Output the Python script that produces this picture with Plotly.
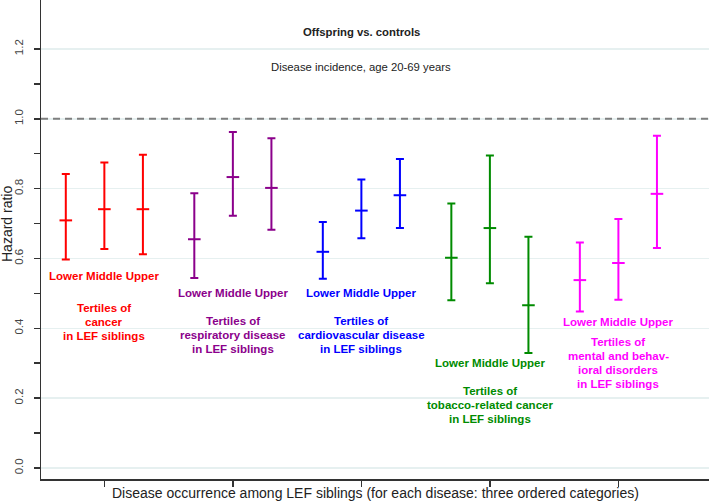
import plotly.graph_objects as go

# ---- data ----
groups = ["cancer", "respiratory disease", "cardiovascular disease",
          "tobacco-related cancer", "mental and behavioral disorders"]
group_pos = [1, 2, 3, 4, 5]
tertile_offsets = [-0.3, 0.0, 0.3]
tertiles = ["Lower", "Middle", "Upper"]
colors = ["#FF0000", "#8B008B", "#0000FF", "#008B00", "#FF00FF"]

hr_cancer = [0.709, 0.741, 0.741]
lo_cancer = [0.597, 0.627, 0.612]
hi_cancer = [0.842, 0.875, 0.897]

hr_resp = [0.655, 0.833, 0.802]
lo_resp = [0.544, 0.722, 0.682]
hi_resp = [0.787, 0.962, 0.944]

hr_cvd = [0.619, 0.737, 0.781]
lo_cvd = [0.542, 0.658, 0.687]
hi_cvd = [0.704, 0.826, 0.885]

hr_tob = [0.602, 0.687, 0.466]
lo_tob = [0.480, 0.529, 0.329]
hi_tob = [0.757, 0.895, 0.662]

hr_mental = [0.538, 0.587, 0.785]
lo_mental = [0.448, 0.482, 0.630]
hi_mental = [0.646, 0.713, 0.951]

hr_all = [hr_cancer, hr_resp, hr_cvd, hr_tob, hr_mental]
lo_all = [lo_cancer, lo_resp, lo_cvd, lo_tob, lo_mental]
hi_all = [hi_cancer, hi_resp, hi_cvd, hi_tob, hi_mental]

y_major_ticks = [0.0, 0.2, 0.4, 0.6, 0.8, 1.0, 1.2]
y_minor_ticks = [0.1, 0.3, 0.5, 0.7, 0.9, 1.1]

# label texts per group (lines)
group_label_lines = [
    ["Tertiles of", "cancer", "in LEF siblings"],
    ["Tertiles of", "respiratory disease", "in LEF siblings"],
    ["Tertiles of", "cardiovascular disease", "in LEF siblings"],
    ["Tertiles of", "tobacco-related cancer", "in LEF siblings"],
    ["Tertiles of", "mental and behav-", "ioral disorders", "in LEF siblings"],
]
# vertical placement of label text (y in hazard-ratio units)
lmu_y = [0.551, 0.500, 0.500, 0.300, 0.419]
label_top_y = [0.459, 0.421, 0.421, 0.221, 0.360]
label_line_step = 0.0401

FONT = "Liberation Sans, Arial, sans-serif"

fig = go.Figure()

for g in range(5):
    xs = [group_pos[g] + o for o in tertile_offsets]
    hr = hr_all[g]
    lo = lo_all[g]
    hi = hi_all[g]
    fig.add_trace(go.Scatter(
        x=xs, y=hr, mode="markers",
        marker=dict(symbol="line-ew", size=9, color=colors[g],
                    line=dict(color=colors[g], width=2)),
        error_y=dict(type="data", symmetric=False,
                     array=[h - m for h, m in zip(hi, hr)],
                     arrayminus=[m - l for m, l in zip(hr, lo)],
                     color=colors[g], thickness=2, width=4),
        showlegend=False, hoverinfo="skip",
    ))
    fig.add_annotation(x=group_pos[g], y=lmu_y[g], xref="x", yref="y",
                       text=" ".join(tertiles), showarrow=False,
                       font=dict(family=FONT, size=11.5, color=colors[g], weight="bold"),
                       xanchor="center", yanchor="middle")
    for i, line in enumerate(group_label_lines[g]):
        fig.add_annotation(x=group_pos[g], y=label_top_y[g] - i * label_line_step,
                           xref="x", yref="y", text=line, showarrow=False,
                           font=dict(family=FONT, size=11.5, color=colors[g], weight="bold"),
                           xanchor="center", yanchor="middle")

# reference line at HR = 1
fig.add_shape(type="line", xref="paper", yref="y", x0=0, x1=1, y0=1.0, y1=1.0,
              line=dict(color="#7f7f7f", width=2, dash="7px,5px"), layer="above")

# titles inside the plot
fig.add_annotation(x=3, y=1.2486, xref="x", yref="y", text="<b>Offspring vs. controls</b>",
                   showarrow=False, font=dict(family=FONT, size=11.3, color="#222222"))
fig.add_annotation(x=3, y=1.148, xref="x", yref="y", text="Disease incidence, age 20-69 years",
                   showarrow=False, font=dict(family=FONT, size=11.3, color="#222222"))

# axis titles
fig.add_annotation(x=(7 - 41) / 668, y=1 - 224 / 479, xref="paper", yref="paper",
                   text="Hazard ratio", textangle=-90, showarrow=False,
                   font=dict(family=FONT, size=14, color="#222222"),
                   xanchor="center", yanchor="middle")
fig.add_annotation(x=0.5, y=-(493 - 479) / 479, xref="paper", yref="paper",
                   text="Disease occurrence among LEF siblings (for each disease: three ordered categories)",
                   showarrow=False, font=dict(family=FONT, size=14, color="#222222"),
                   xanchor="center", yanchor="middle")

fig.update_layout(
    width=709, height=504,
    margin=dict(l=41, r=0, t=0, b=25),
    paper_bgcolor="white", plot_bgcolor="white",
    xaxis=dict(range=[0.507, 5.705], tickvals=group_pos, ticktext=[""] * 5,
               ticks="outside", ticklen=6, tickwidth=1.5, tickcolor="#333333",
               showline=True, linecolor="#333333", linewidth=1.5,
               showgrid=False, zeroline=False, fixedrange=True),
    yaxis=dict(range=[-0.0315, 1.340], tickvals=y_major_ticks,
               ticktext=[f"{v:.1f}" for v in y_major_ticks],
               ticks="outside", ticklen=6, tickwidth=1.5, tickcolor="#333333",
               tickangle=-90, tickfont=dict(family=FONT, size=11.5, color="#444444"),
               ticklabelstandoff=6,
               showline=True, linecolor="#333333", linewidth=1.5,
               showgrid=True, gridcolor="#E6F0F0", gridwidth=1.5,
               zeroline=False, fixedrange=True,
               minor=dict(tickvals=y_minor_ticks, ticks="outside", ticklen=6,
                          tickwidth=1.5, tickcolor="#333333", showgrid=False)),
)

fig.write_html("out.html", config={"displayModeBar": False, "staticPlot": True},
               post_script="document.body.style.margin='0';document.body.style.overflow='hidden';")
